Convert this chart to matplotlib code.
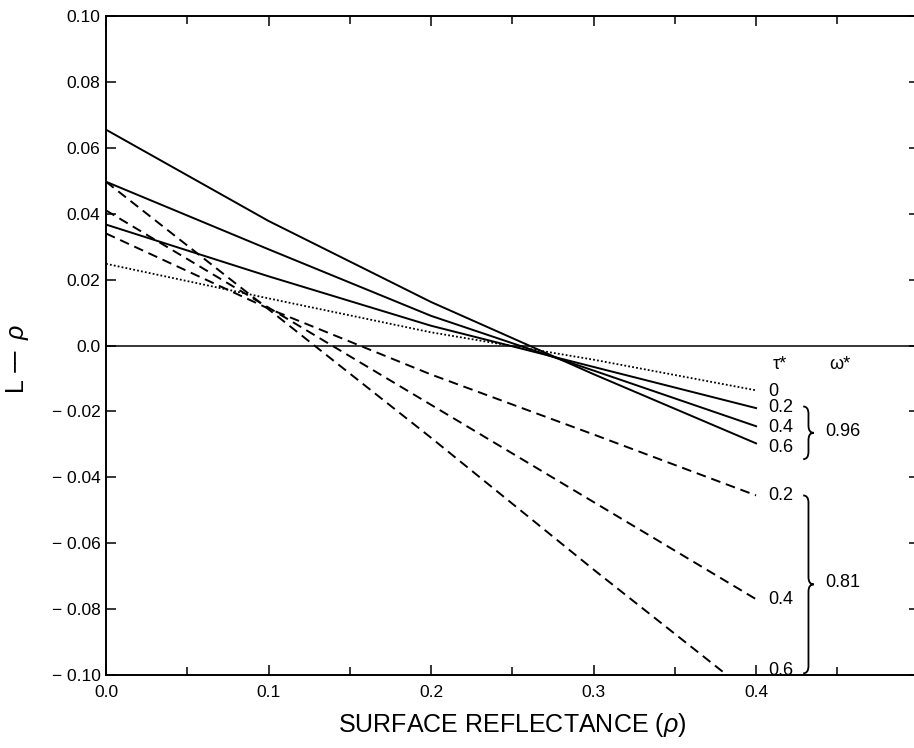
import matplotlib
matplotlib.use("Agg")
import matplotlib.pyplot as plt
from matplotlib.path import Path
from matplotlib.patches import PathPatch
from matplotlib.ticker import MultipleLocator, FixedLocator, FixedFormatter

plt.rcParams['font.family'] = ['Liberation Sans', 'DejaVu Sans']
plt.rcParams['mathtext.fontset'] = 'custom'
plt.rcParams['mathtext.rm'] = 'Liberation Sans'
plt.rcParams['mathtext.it'] = 'Liberation Sans:italic'

# ---- data ----
rho = [0.0, 0.1, 0.2, 0.3, 0.4]
tau0_w096 = [0.0248, 0.0143, 0.0040, -0.0043, -0.0136]
tau02_w096 = [0.0367, 0.0210, 0.0060, -0.0065, -0.0190]
tau04_w096 = [0.0497, 0.0292, 0.0090, -0.0076, -0.0245]
tau06_w096 = [0.0655, 0.0378, 0.0132, -0.0087, -0.0297]
tau02_w081 = [0.0340, 0.0112, -0.0088, -0.0270, -0.0455]
tau04_w081 = [0.0410, 0.0115, -0.0180, -0.0475, -0.0770]
tau06_w081 = [0.0497, 0.0110, -0.0280, -0.0680, -0.1070]

tau_labels_096 = ["0", "0.2", "0.4", "0.6"]
tau_labels_081 = ["0.2", "0.4", "0.6"]
omega_labels = ["0.96", "0.81"]

xtick_vals = [0.0, 0.1, 0.2, 0.3, 0.4]
xtick_labels = ["0.0", "0.1", "0.2", "0.3", "0.4"]
ytick_vals = [0.10, 0.08, 0.06, 0.04, 0.02, 0.0, -0.02, -0.04, -0.06, -0.08, -0.10]
ytick_labels = ["0.10", "0.08", "0.06", "0.04", "0.02", "0.0",
                "\u2212 0.02", "\u2212 0.04", "\u2212 0.06", "\u2212 0.08", "\u2212 0.10"]

fig = plt.figure(figsize=(9.14, 7.48), dpi=100)
ax = fig.add_axes([0.116, 0.0976, 0.889, 0.881])
ax.set_xlim(0, 0.5)
ax.set_ylim(-0.1, 0.1)

lw = 1.4
dash = (0, (5.0, 3.0))
ax.axhline(0, color='black', lw=1.1, zorder=1)
ax.plot(rho, tau0_w096, color='black', lw=1.3, linestyle=(0, (1, 1.2)))
ax.plot(rho, tau02_w096, color='black', lw=lw)
ax.plot(rho, tau04_w096, color='black', lw=lw)
ax.plot(rho, tau06_w096, color='black', lw=lw)
ax.plot(rho, tau02_w081, color='black', lw=lw, linestyle=dash)
ax.plot(rho, tau04_w081, color='black', lw=lw, linestyle=dash)
ax.plot(rho, tau06_w081, color='black', lw=lw, linestyle=dash)

# ---- right side annotations ----
fs = 13
xlab = 0.4075
ends_096 = [tau0_w096[-1], tau02_w096[-1], tau04_w096[-1], tau06_w096[-1]]
label_y_096 = [ends_096[0] - 0.0003, ends_096[1] + 0.0003, ends_096[2] - 0.0003, ends_096[3] - 0.0012]
for lab, yv in zip(tau_labels_096, label_y_096):
    ax.text(xlab, yv, lab, fontsize=fs, ha='left', va='center')
ends_081 = [tau02_w081[-1], tau04_w081[-1], -0.0985]
for lab, yv in zip(tau_labels_081, ends_081):
    ax.text(xlab, yv, lab, fontsize=fs, ha='left', va='center')

ax.text(0.410, -0.0058, "\u03c4*", fontsize=fs, ha='left', va='center')
ax.text(0.445, -0.0058, "\u03c9*", fontsize=fs, ha='left', va='center')


def brace(x0, y_top, y_bot, w, r):
    ym = (y_top + y_bot) / 2
    xm = x0 + w / 2
    verts = [(x0, y_top), (xm, y_top), (xm, y_top - r),
             (xm, ym + r), (xm, ym), (x0 + w, ym),
             (xm, ym), (xm, ym - r),
             (xm, y_bot + r), (xm, y_bot), (x0, y_bot)]
    codes = [Path.MOVETO, Path.CURVE3, Path.CURVE3,
             Path.LINETO, Path.CURVE3, Path.CURVE3,
             Path.CURVE3, Path.CURVE3,
             Path.LINETO, Path.CURVE3, Path.CURVE3]
    ax.add_patch(PathPatch(Path(verts, codes), fill=False, lw=1.3,
                           edgecolor='black', clip_on=False))


brace(0.429, -0.0185, -0.0345, 0.0065, 0.0022)
ax.text(0.4425, -0.0262, omega_labels[0], fontsize=fs, ha='left', va='center')
brace(0.429, -0.0455, -0.0995, 0.0065, 0.0022)
ax.text(0.4425, -0.0718, omega_labels[1], fontsize=fs, ha='left', va='center')

# ---- axes styling ----
ax.xaxis.set_major_locator(FixedLocator(xtick_vals))
ax.xaxis.set_major_formatter(FixedFormatter(xtick_labels))
ax.xaxis.set_minor_locator(MultipleLocator(0.05))
ax.yaxis.set_major_locator(FixedLocator(ytick_vals))
ax.yaxis.set_major_formatter(FixedFormatter(ytick_labels))
ax.tick_params(axis='both', which='both', direction='in', top=True, right=True,
               labelsize=12.5, width=1.1)
ax.tick_params(axis='both', which='major', length=7)
ax.tick_params(axis='both', which='minor', length=6)
ax.tick_params(axis='x', pad=7)
ax.tick_params(axis='y', pad=4)
for s in ax.spines.values():
    s.set_linewidth(1.4)

ax.set_xlabel(r"SURFACE REFLECTANCE ($\it{\rho}$)", fontsize=18)
ax.xaxis.set_label_coords(0.50, -0.055)
ax.set_ylabel(r"L $\mathrm{-\!\!\!-}$ $\it{\rho}$", fontsize=18)
ax.yaxis.set_label_coords(-0.092, 0.48)

fig.savefig("out.png", dpi=100)
